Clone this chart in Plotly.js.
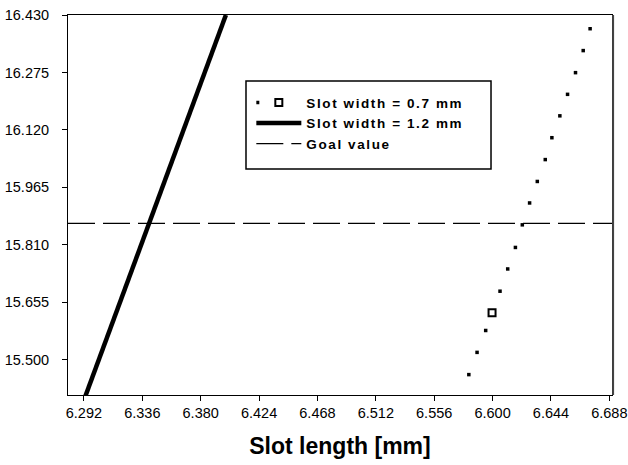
<!DOCTYPE html>
<html>
<head>
<meta charset="utf-8">
<script src="https://cdn.plot.ly/plotly-3.0.1.min.js"></script>
<style>
html,body{margin:0;padding:0;background:#fff;}
.legendtext{letter-spacing:1.6px;}
</style>
</head>
<body>
<div id="chart" style="width:628px;height:465px;"></div>
<script>
// ---- data ----
const xRange = [6.28, 6.69];
const yRange = [15.405, 16.43];
const xTicks = [6.292, 6.336, 6.380, 6.424, 6.468, 6.512, 6.556, 6.600, 6.644, 6.688];
const yTicks = [15.500, 15.655, 15.810, 15.965, 16.120, 16.275, 16.430];

// Slot width = 0.7 mm (points)
const w07_x = [6.5768, 6.5821, 6.5883, 6.5948, 6.5996, 6.6056, 6.6114, 6.6172, 6.6224,
               6.6279, 6.6337, 6.6397, 6.6447, 6.6507, 6.6565, 6.6625, 6.6683, 6.6735];
const w07_y = [15.400, 15.460, 15.520, 15.579, 15.627, 15.685, 15.745, 15.803, 15.864,
               15.923, 15.981, 16.040, 16.099, 16.158, 16.216, 16.2745, 16.334, 16.393];
const highlightIndex = 4; // point drawn with an open square

// Slot width = 1.2 mm (line)
const w12_x = [6.2929, 6.3990];
const w12_y = [15.400, 16.430];

// Goal value
const goalValue = 15.868;

const seriesNames = ['Slot width = 0.7 mm', 'Slot width = 1.2 mm', 'Goal value'];

// ---- traces ----
const hx = [w07_x[highlightIndex]];
const hy = [w07_y[highlightIndex]];

const traces = [
  { // legend entry for 0.7 mm
    x: [null], y: [null], type: 'scatter', mode: 'lines+markers',
    name: seriesNames[0], showlegend: true, hoverinfo: 'skip',
    line: {color: '#000', width: 3.5, dash: '3px,60px'},
    marker: {symbol: 'square', size: 7, color: '#fff', line: {color: '#000', width: 2}}
  },
  {
    x: w07_x, y: w07_y, type: 'scatter', mode: 'markers', showlegend: false,
    name: seriesNames[0], cliponaxis: false,
    marker: {symbol: 'square', size: 3.5, color: '#000', line: {width: 0}}
  },
  {
    x: hx, y: hy, type: 'scatter', mode: 'markers', showlegend: false,
    name: seriesNames[0], cliponaxis: false,
    marker: {symbol: 'square', size: 7, color: '#fff', line: {color: '#000', width: 2}}
  },
  {
    x: w12_x, y: w12_y, type: 'scatter', mode: 'lines', name: seriesNames[1],
    line: {color: '#000', width: 4.5}
  },
  {
    x: xRange, y: [goalValue, goalValue], type: 'scatter', mode: 'lines', name: seriesNames[2],
    line: {color: '#000', width: 1.3, dash: '27px,8px'}
  }
];

const tickFont = {family: 'Arial, "Liberation Sans", sans-serif', size: 14.5, color: '#000'};

const layout = {
  width: 628, height: 465,
  margin: {l: 68, r: 16, t: 15, b: 70},
  paper_bgcolor: '#fff', plot_bgcolor: '#fff',
  showlegend: true,
  legend: {
    x: 0.337, y: 0.81, xanchor: 'left', yanchor: 'top',
    bgcolor: 'rgba(0,0,0,0)', borderwidth: 0,
    itemwidth: 45, tracegroupgap: 0,
    font: {family: 'Arial, "Liberation Sans", sans-serif', size: 13.5, color: '#000', weight: 'bold'}
  },
  xaxis: {
    range: xRange, tickvals: xTicks, tickformat: '.3f',
    ticks: 'outside', ticklen: 5, tickcolor: '#000', tickwidth: 1,
    showline: true, linecolor: '#000', linewidth: 1, mirror: true,
    showgrid: false, zeroline: false, tickfont: tickFont,
    title: {text: 'Slot length [mm]', standoff: 17,
            font: {family: 'Arial, "Liberation Sans", sans-serif', size: 23, color: '#000', weight: 'bold'}}
  },
  yaxis: {
    range: yRange, tickvals: yTicks, tickformat: '.3f',
    ticks: 'outside', ticklen: 5, tickcolor: '#000', tickwidth: 1,
    showline: true, linecolor: '#000', linewidth: 1, mirror: true,
    showgrid: false, zeroline: false, tickfont: tickFont,
    ticklabelstandoff: 10
  },
  shapes: [
    {type: 'rect', xref: 'paper', yref: 'paper',
     x0: 0.3272, x1: 0.7776, y0: 0.5947, y1: 0.8263,
     line: {color: '#000', width: 1.5}, fillcolor: 'rgba(0,0,0,0)'},
    {type: 'line', xref: 'paper', yref: 'paper', x0: 1.002, x1: 1.002, y0: 0, y1: 1,
     line: {color: '#444', width: 2}}
  ]
};

Plotly.newPlot('chart', traces, layout, {displayModeBar: false, staticPlot: true});
</script>
</body>
</html>
